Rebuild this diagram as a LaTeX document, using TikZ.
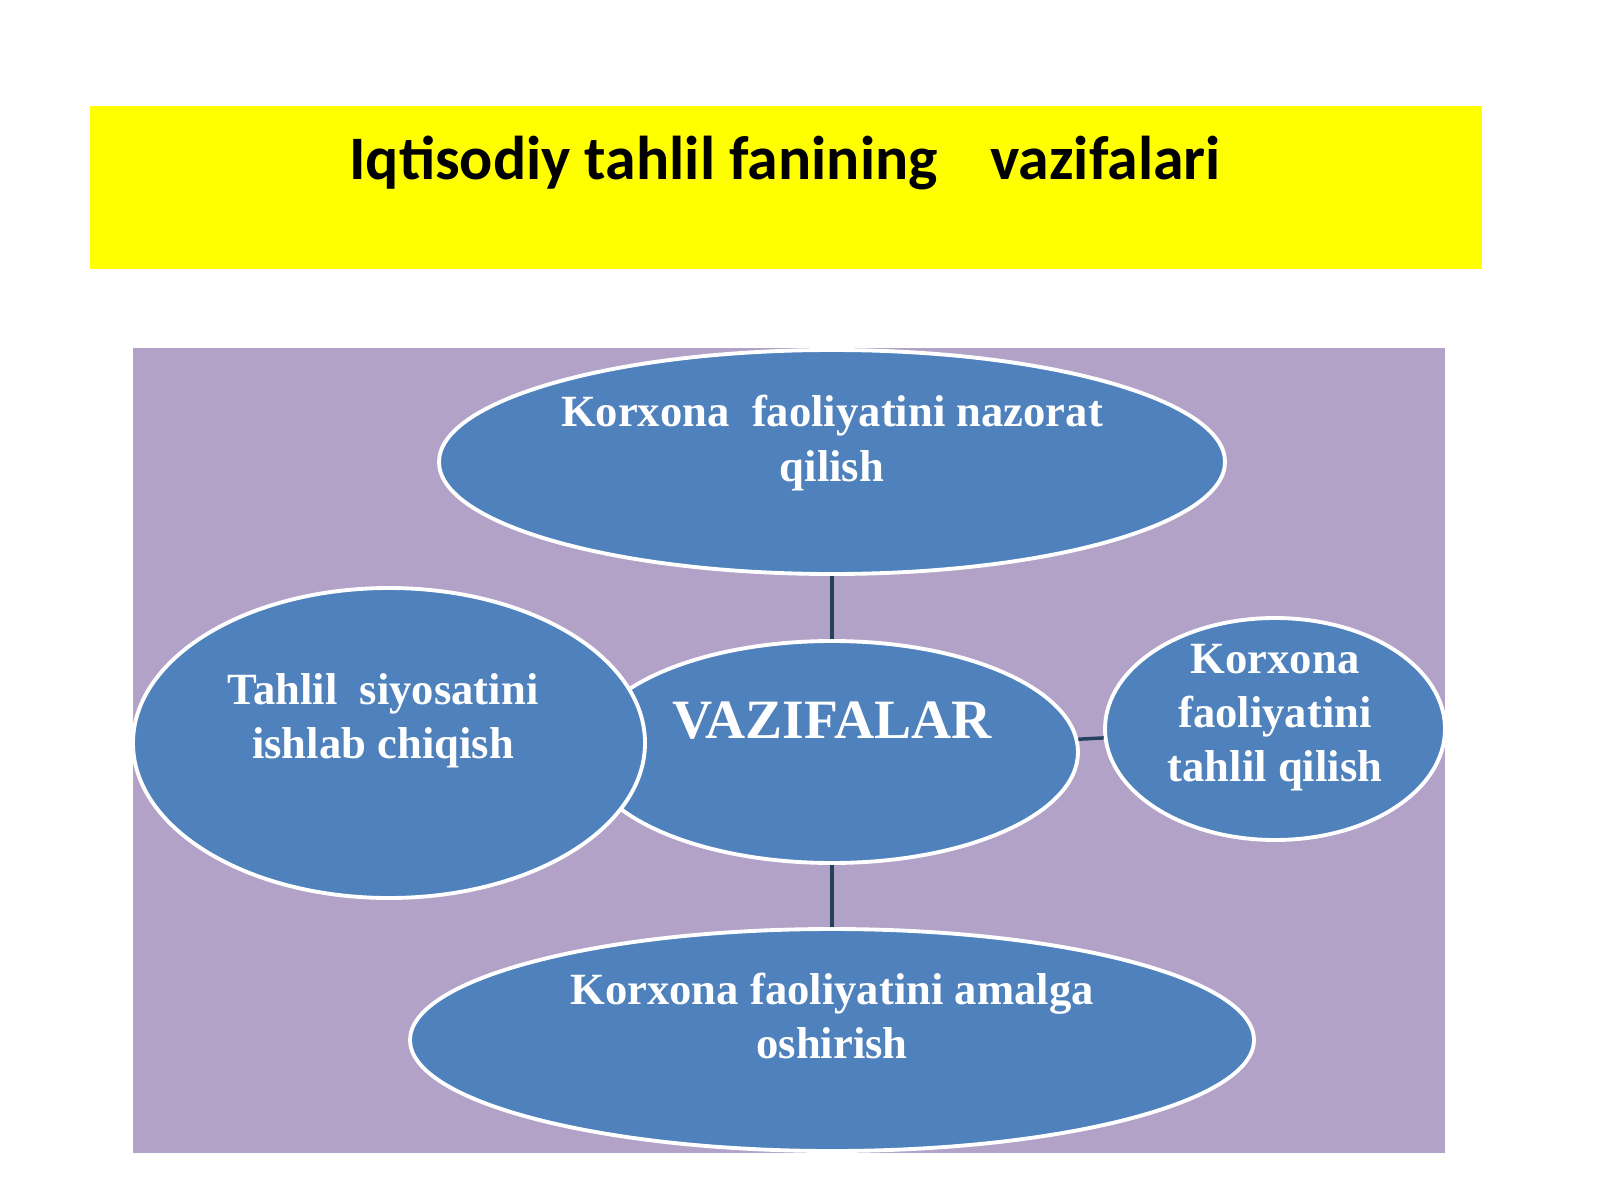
\documentclass[tikz,border=0pt]{standalone}
\usepackage{fontspec}
\setmainfont{Liberation Serif}
\newfontfamily\titlefont{Carlito}
\usetikzlibrary{shapes.geometric}
\usetikzlibrary{positioning}

\definecolor{bandyellow}{RGB}{255,255,0}
\definecolor{taskblue}{RGB}{79,129,189}
\definecolor{backlilac}{RGB}{179,162,199}
\definecolor{linkdark}{RGB}{38,64,96}

\begin{document}
\begin{tikzpicture}[
    task/.style={ellipse,draw=white,line width=1.1pt,fill=taskblue,inner sep=0pt},
    tasktext/.style={text=white,font=\bfseries\fontsize{12.7}{15.4}\selectfont,align=center,inner sep=0pt},
    link/.style={draw=linkdark,line width=1pt}]
  \useasboundingbox (0,0) rectangle (16,12);
  % title band
  \fill[bandyellow] (0.90,9.31) rectangle (14.82,10.94);
  \node[font=\titlefont\bfseries\fontsize{17.6}{21}\selectfont,anchor=base] (title) at (7.85,10.20) {Iqtisodiy tahlil fanining\hspace{0.85em}vazifalari};
  % diagram
  \fill[backlilac] (1.33,0.47) rectangle (14.45,8.52);
  \node[task,minimum width=7.86cm,minimum height=2.24cm] (nazorat) at (8.32,7.38) {};
  \node[task,minimum width=4.92cm,minimum height=2.22cm] (vazifa) at (8.32,4.48) {};
  \node[task,minimum width=5.12cm,minimum height=3.10cm] (siyosat) at (3.89,4.57) {};
  \node[task,minimum width=3.40cm,minimum height=2.22cm] (tahlil) at (12.75,4.71) {};
  \node[task,minimum width=8.44cm,minimum height=2.22cm] (amalga) at (8.32,1.60) {};
  \draw[link] (nazorat) -- (vazifa);
  \draw[link] (vazifa) -- (amalga);
  \draw[link] (vazifa) -- (tahlil);
  % labels
  \node[tasktext] (nazoratT) at (8.32,7.57) {Korxona\ \ faoliyatini nazorat\\qilish};
  \node[tasktext,font=\bfseries\fontsize{15.8}{19}\selectfont] (vazifaT) at (8.32,4.79) {VAZIFALAR};
  \node[tasktext] (siyosatT) at (3.83,4.79) {Tahlil\ \ siyosatini\\ishlab chiqish};
  \node[tasktext] (tahlilT) at (12.75,4.82) {Korxona\\faoliyatini\\tahlil qilish};
  \node[tasktext] (amalgaT) at (8.32,1.84) {Korxona faoliyatini amalga\\oshirish};
\end{tikzpicture}
\end{document}
